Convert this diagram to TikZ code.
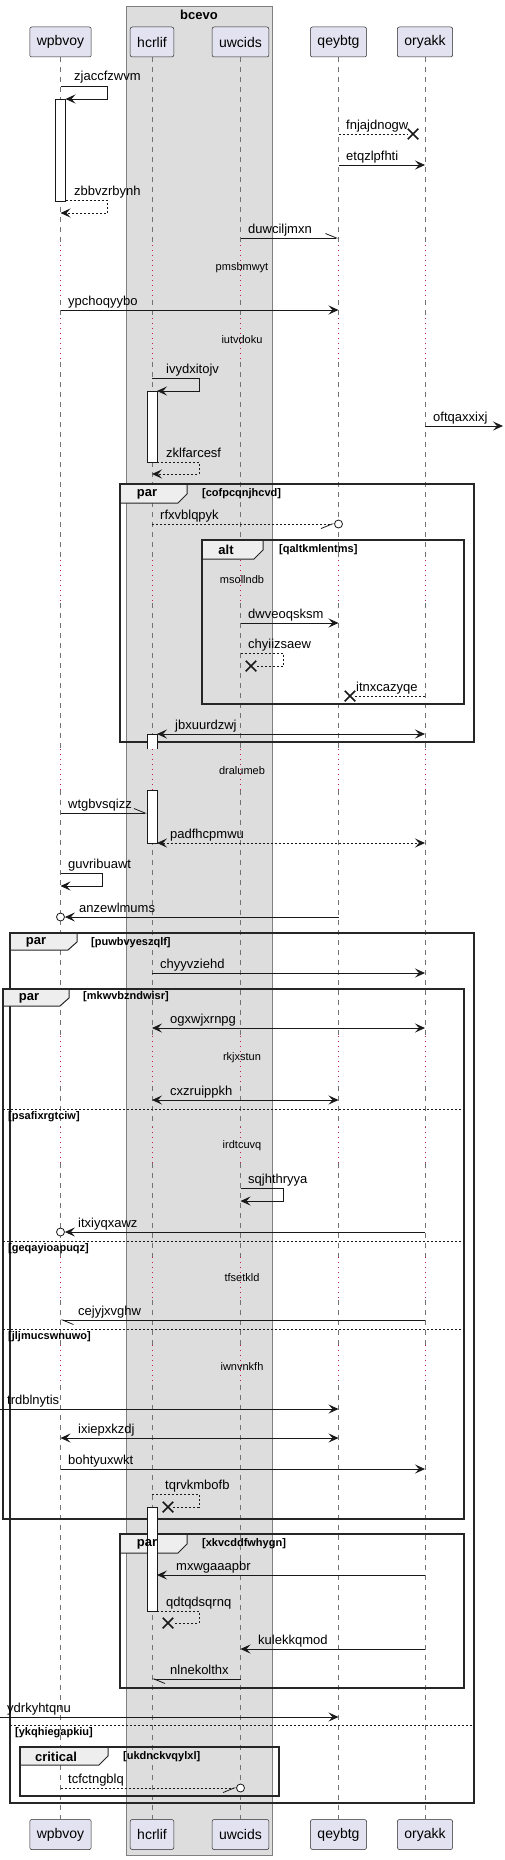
\documentclass[tikz,border=0pt]{standalone}
\usepackage{fontspec}
\setmainfont{Liberation Sans}
\usetikzlibrary{arrows.meta,shapes.misc}

\definecolor{partfill}{HTML}{E2E2F0}
\definecolor{groupfill}{HTML}{DDDDDD}
\definecolor{tabfill}{HTML}{EEEEEE}
\definecolor{delayred}{HTML}{C2185B}

\tikzset{
  barbup/.tip={Straight Barb[harpoon,length=11pt,width=9pt]},
  barbdn/.tip={Straight Barb[harpoon,swap,length=11pt,width=9pt]}
}

\begin{document}
\begin{tikzpicture}[x=1pt,y=-1pt,
    >={Stealth[length=10pt,width=9pt,inset=4pt]},
    part/.style={draw=black!85,fill=partfill,rounded corners=2pt,line width=0.5pt,
      minimum height=30pt,inner xsep=7pt,inner ysep=0pt,font=\fontsize{14}{16}\selectfont},
    life/.style={draw=black!55,line width=0.5pt,dash pattern=on 5pt off 5pt},
    lifedot/.style={draw=delayred,line width=0.8pt,dash pattern=on 1pt off 4pt},
    frame/.style={draw=black!85,line width=1.5pt},
    tab/.style={draw=black!85,line width=1pt,fill=tabfill},
    act/.style={draw=black!90,fill=white,line width=0.8pt},
    msg/.style={draw=black!90,line width=0.8pt},
    ret/.style={msg,dash pattern=on 2pt off 2pt},
    sepline/.style={draw=black!90,line width=0.8pt,dash pattern=on 2pt off 2pt},
    lbl/.style={anchor=base west,inner sep=0pt,font=\fontsize{13}{15}\selectfont},
    dly/.style={inner sep=0pt,font=\fontsize{11}{13}\selectfont},
    kind/.style={inner sep=0pt,font=\bfseries\fontsize{13}{15}\selectfont},
    cond/.style={anchor=west,inner sep=0pt,font=\bfseries\fontsize{11}{13}\selectfont},
    xend/.style={cross out,draw=black!90,line width=1.5pt,minimum size=9pt,inner sep=0pt},
    oend/.style={circle,draw=black!90,fill=white,line width=0.8pt,minimum size=8pt,inner sep=0pt}]

  \useasboundingbox (0,0) rectangle (504,1860);

  % box bcevo
  \draw[draw=black!50,fill=groupfill] (126,6) rectangle (272,1855);
  \node[kind] (bcevo) at (199,15) {bcevo};

  \begin{scope}[every node/.style={part}]
    \node (wpbvoy)  at (60.5,42) {wpbvoy};
    \node (hcrlif)  at (152,42) {hcrlif};
    \node (uwcids)  at (240.5,42) {uwcids};
    \node (qeybtg)  at (338.5,42) {qeybtg};
    \node (oryakk)  at (425,42) {oryakk};
    \node (wpbvoy2) at (60.5,1834.5) {wpbvoy};
    \node (hcrlif2) at (152,1834.5) {hcrlif};
    \node (uwcids2) at (240.5,1834.5) {uwcids};
    \node (qeybtg2) at (338.5,1834.5) {qeybtg};
    \node (oryakk2) at (425,1834.5) {oryakk};
  \end{scope}

  % lifelines, dotted where delayed
  \foreach \p/\q in {wpbvoy/wpbvoy2,hcrlif/hcrlif2,uwcids/uwcids2,qeybtg/qeybtg2,oryakk/oryakk2}{
    \draw[life] (\p.south) -- (\p |- 0,245);
    \foreach \a/\b in {300/318,362/560,603/749,790/1036,1086/1127,1163/1257,1300/1345}
      \draw[life] (\p |- 0,\a) -- (\p |- 0,\b);
    \draw[life] (\p |- 0,1385) -- (\q.north);
    \foreach \a/\b in {245/300,318/362,560/603,749/790,1036/1086,1127/1163,1257/1300,1345/1385}
      \draw[lifedot] (\p |- 0,\a) -- (\p |- 0,\b);
  }

  % delays
  \node[dly] (d1) at (242,268) {pmsbmwyt};
  \node[dly] (d2) at (242,340) {iutvdoku};
  \node[dly] (d3) at (242,580) {msollndb};
  \node[dly] (d4) at (242,771) {dralumeb};
  \node[dly] (d5) at (242,1058) {rkjxstun};
  \node[dly] (d6) at (242,1146) {irdtcuvq};
  \node[dly] (d7) at (242,1278) {tfsetkld};
  \node[dly] (d8) at (242,1366) {iwnvnkfh};

  % par cofpcqnjhcvd
  \draw[tab] (120,484) -- (187,484) -- (187,494) -- (178,503) -- (120,503) -- cycle;
  \draw[frame] (120,484) rectangle (474,742);
  \node[kind] (par1) at (147,494) {par};
  \node[cond] (c1) at (202,494) {[cofpcqnjhcvd]};

  % alt qaltkmlentms
  \draw[tab] (202,540) -- (263,540) -- (263,550) -- (254,559) -- (202,559) -- cycle;
  \draw[frame] (202,540) rectangle (464,704);
  \node[kind] (alt1) at (226,550) {alt};
  \node[cond] (c2) at (279,550) {[qaltkmlentms]};

  % par puwbvyeszqlf
  \draw[tab] (10,933) -- (77,933) -- (77,942) -- (68,950) -- (10,950) -- cycle;
  \draw[frame] (10,933) rectangle (474,1803);
  \node[kind] (par2) at (36,942) {par};
  \node[cond] (c3) at (91,943) {[puwbvyeszqlf]};
  \draw[sepline] (10,1725) -- (474,1725);
  \node[cond] (c4) at (15,1733) {[ykqhiegapkiu]};

  % par mkwvbzndwisr
  \draw[tab] (3,989) -- (69,989) -- (69,998) -- (60,1006) -- (3,1006) -- cycle;
  \draw[frame] (3,989) rectangle (464,1519);
  \node[kind] (par3) at (29,998) {par};
  \node[cond] (c5) at (83,997) {[mkwvbzndwisr]};
  \draw[sepline] (3,1109) -- (464,1109);
  \node[cond] (c6) at (8,1117) {[psafixrgtciw]};
  \draw[sepline] (3,1241) -- (464,1241);
  \node[cond] (c7) at (8,1249) {[geqayioapuqz]};
  \draw[sepline] (3,1329) -- (464,1329);
  \node[cond] (c8) at (8,1337) {[jljmucswnuwo]};

  % par xkvcddfwhygn
  \draw[tab] (120,1534) -- (187,1534) -- (187,1544) -- (178,1553) -- (120,1553) -- cycle;
  \draw[frame] (120,1534) rectangle (464,1688);
  \node[cond] (c9) at (202,1544) {[xkvcddfwhygn]};

  % critical ukdnckvqylxl
  \draw[tab] (20,1747) -- (108,1747) -- (108,1756) -- (99,1765) -- (20,1765) -- cycle;
  \draw[frame] (20,1747) rectangle (279,1796);
  \node[kind] (crit1) at (56,1757) {critical};
  \node[cond] (c10) at (123,1757) {[ukdnckvqylxl]};

  % activations
  \draw[act] (55.5,99) rectangle (65.5,201);
  \draw[act] (147,391) rectangle (157,462);
  \fill[white] (147,734) rectangle (157,749);
  \draw[act] (147,749) -- (147,734) -- (157,734) -- (157,749);
  \draw[act] (147,790) rectangle (157,843);
  \draw[act] (147,1507) rectangle (157,1611);
  \node[kind] (par4) at (147,1544) {par};

  % messages
  \coordinate (m1a) at (60.5,86); \coordinate (m1b) at (107,86);
  \coordinate (m1c) at (107,99); \coordinate (m1d) at (65.5,99);
  \draw[msg,->] (m1a) -- (m1b) -- (m1c) -- (m1d);
  \node[lbl] (t1) at (74,81) {zjaccfzwvm};

  \coordinate (m2a) at (338.5,134);
  \node[xend] (x2) at (413,134) {};
  \draw[ret] (m2a) -- (x2);
  \node[lbl] (t2) at (346,129) {fnjajdnogw};

  \coordinate (m3a) at (338.5,165); \coordinate (m3b) at (425,165);
  \draw[msg,->] (m3a) -- (m3b);
  \node[lbl] (t3) at (346,160) {etqzlpfhti};

  \coordinate (m4a) at (65.5,200); \coordinate (m4b) at (107,200);
  \coordinate (m4c) at (107,213); \coordinate (m4d) at (60.5,213);
  \draw[ret,->] (m4a) -- (m4b) -- (m4c) -- (m4d);
  \node[lbl] (t4) at (74,195) {zbbvzrbynh};

  \coordinate (m5a) at (240.5,238); \coordinate (m5b) at (338.5,238);
  \draw[msg,-{barbup}] (m5a) -- (m5b);
  \node[lbl] (t5) at (248,233) {duwciljmxn};

  \coordinate (m6a) at (60.5,310); \coordinate (m6b) at (338.5,310);
  \draw[msg,->] (m6a) -- (m6b);
  \node[lbl] (t6) at (68,305) {ypchoqyybo};

  \coordinate (m7a) at (152,378); \coordinate (m7b) at (199,378);
  \coordinate (m7c) at (199,391); \coordinate (m7d) at (157,391);
  \draw[msg,->] (m7a) -- (m7b) -- (m7c) -- (m7d);
  \node[lbl] (t7) at (166,373) {ivydxitojv};

  \coordinate (m8a) at (425,426); \coordinate (m8b) at (503,426);
  \draw[msg,->] (m8a) -- (m8b);
  \node[lbl] (t8) at (433,421) {oftqaxxixj};

  \coordinate (m9a) at (157,462); \coordinate (m9b) at (199,462);
  \coordinate (m9c) at (199,474); \coordinate (m9d) at (152,474);
  \draw[ret,->] (m9a) -- (m9b) -- (m9c) -- (m9d);
  \node[lbl] (t9) at (166,457) {zklfarcesf};

  \coordinate (m10a) at (152,524);
  \node[oend] (o10) at (338.5,524) {};
  \draw[ret,-{barbdn}] (m10a) -- (o10);
  \node[lbl] (t10) at (160,519) {rfxvblqpyk};

  \coordinate (m11a) at (240.5,623); \coordinate (m11b) at (338.5,623);
  \draw[msg,->] (m11a) -- (m11b);
  \node[lbl] (t11) at (248,618) {dwveoqsksm};

  \coordinate (m12a) at (240.5,653); \coordinate (m12b) at (283,653);
  \coordinate (m12c) at (283,666);
  \node[xend] (x12) at (251,666) {};
  \draw[ret] (m12a) -- (m12b) -- (m12c) -- (x12);
  \node[lbl] (t12) at (248,648) {chyiizsaew};

  \coordinate (m13a) at (425,696);
  \node[xend] (x13) at (350,696) {};
  \draw[ret] (m13a) -- (x13);
  \node[lbl] (t13) at (356,691) {itnxcazyqe};

  \coordinate (m14a) at (157,734); \coordinate (m14b) at (425,734);
  \draw[msg,<->] (m14a) -- (m14b);
  \node[lbl] (t14) at (175,729) {jbxuurdzwj};

  \coordinate (m15a) at (60.5,813); \coordinate (m15b) at (147,813);
  \draw[msg,-{barbup}] (m15a) -- (m15b);
  \node[lbl] (t15) at (68,808) {wtgbvsqizz};

  \coordinate (m16a) at (157,843); \coordinate (m16b) at (425,843);
  \draw[ret,<->] (m16a) -- (m16b);
  \node[lbl] (t16) at (170,838) {padfhcpmwu};

  \coordinate (m17a) at (60.5,873); \coordinate (m17b) at (102,873);
  \coordinate (m17c) at (102,886); \coordinate (m17d) at (60.5,886);
  \draw[msg,->] (m17a) -- (m17b) -- (m17c) -- (m17d);
  \node[lbl] (t17) at (68,868) {guvribuawt};

  \coordinate (m18a) at (338.5,917);
  \node[oend] (o18) at (60.5,917) {};
  \draw[msg,->] (m18a) -- (o18);
  \node[lbl] (t18) at (79,912) {anzewlmums};

  \coordinate (m19a) at (152,973); \coordinate (m19b) at (425,973);
  \draw[msg,->] (m19a) -- (m19b);
  \node[lbl] (t19) at (160,968) {chyyvziehd};

  \coordinate (m20a) at (152,1028); \coordinate (m20b) at (425,1028);
  \draw[msg,<->] (m20a) -- (m20b);
  \node[lbl] (t20) at (170,1023) {ogxwjxrnpg};

  \coordinate (m21a) at (152,1100); \coordinate (m21b) at (338.5,1100);
  \draw[msg,<->] (m21a) -- (m21b);
  \node[lbl] (t21) at (170,1095) {cxzruippkh};

  \coordinate (m22a) at (240.5,1188); \coordinate (m22b) at (283,1188);
  \coordinate (m22c) at (283,1201); \coordinate (m22d) at (240.5,1201);
  \draw[msg,->] (m22a) -- (m22b) -- (m22c) -- (m22d);
  \node[lbl] (t22) at (248,1183) {sqjhthryya};

  \coordinate (m23a) at (425,1232);
  \node[oend] (o23) at (60.5,1232) {};
  \draw[msg,->] (m23a) -- (o23);
  \node[lbl] (t23) at (78,1227) {itxiyqxawz};

  \coordinate (m24a) at (425,1320); \coordinate (m24b) at (60.5,1320);
  \draw[msg,-{barbup}] (m24a) -- (m24b);
  \node[lbl] (t24) at (78,1315) {cejyjxvghw};

  \coordinate (m25a) at (0,1409); \coordinate (m25b) at (338.5,1409);
  \draw[msg,->] (m25a) -- (m25b);
  \node[lbl] (t25) at (7,1404) {trdblnytis};

  \coordinate (m26a) at (60.5,1438); \coordinate (m26b) at (338.5,1438);
  \draw[msg,<->] (m26a) -- (m26b);
  \node[lbl] (t26) at (78,1433) {ixiepxkzdj};

  \coordinate (m27a) at (60.5,1469); \coordinate (m27b) at (425,1469);
  \draw[msg,->] (m27a) -- (m27b);
  \node[lbl] (t27) at (68,1464) {bohtyuxwkt};

  \coordinate (m28a) at (152,1494); \coordinate (m28b) at (199,1494);
  \coordinate (m28c) at (199,1507);
  \node[xend] (x28) at (168,1507) {};
  \draw[ret] (m28a) -- (m28b) -- (m28c) -- (x28);
  \node[lbl] (t28) at (165,1489) {tqrvkmbofb};

  \coordinate (m29a) at (425,1575); \coordinate (m29b) at (157,1575);
  \draw[msg,->] (m29a) -- (m29b);
  \node[lbl] (t29) at (176,1570) {mxwgaaapbr};

  \coordinate (m30a) at (157,1611); \coordinate (m30b) at (199,1611);
  \coordinate (m30c) at (199,1623);
  \node[xend] (x30) at (168,1623) {};
  \draw[ret] (m30a) -- (m30b) -- (m30c) -- (x30);
  \node[lbl] (t30) at (166,1606) {qdtqdsqrnq};

  \coordinate (m31a) at (425,1649); \coordinate (m31b) at (240.5,1649);
  \draw[msg,->] (m31a) -- (m31b);
  \node[lbl] (t31) at (258,1644) {kulekkqmod};

  \coordinate (m32a) at (240.5,1679); \coordinate (m32b) at (152,1679);
  \draw[msg,-{barbup}] (m32a) -- (m32b);
  \node[lbl] (t32) at (170,1674) {nlnekolthx};

  \coordinate (m33a) at (0,1717); \coordinate (m33b) at (338.5,1717);
  \draw[msg,->] (m33a) -- (m33b);
  \node[lbl] (t33) at (7,1712) {ydrkyhtqnu};

  \coordinate (m34a) at (60.5,1788);
  \node[oend] (o34) at (240.5,1788) {};
  \draw[ret,-{barbdn}] (m34a) -- (o34);
  \node[lbl] (t34) at (68,1783) {tcfctngblq};

\end{tikzpicture}
\end{document}
